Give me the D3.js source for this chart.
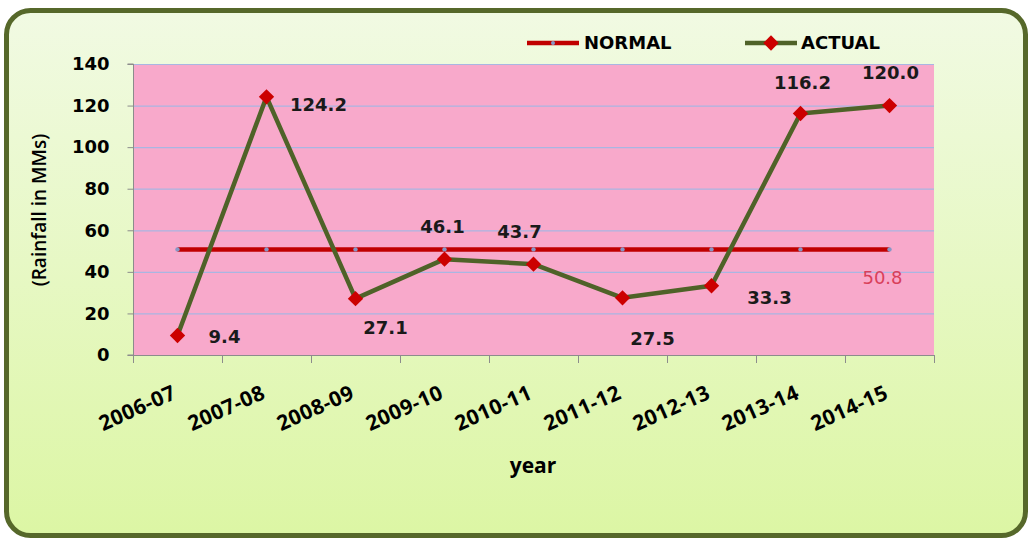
<!DOCTYPE html>
<html>
<head>
<meta charset="utf-8">
<script src="https://cdn.jsdelivr.net/npm/d3@7"></script>
<style>
  body { margin: 0; background: #fff; }
  svg { display: block; }
</style>
</head>
<body>
<script>

var years = ["2006-07", "2007-08", "2008-09", "2009-10", "2010-11", "2011-12", "2012-13", "2013-14", "2014-15"];
var actual = [9.4, 124.2, 27.1, 46.1, 43.7, 27.5, 33.3, 116.2, 120.0];
var normal = [50.8, 50.8, 50.8, 50.8, 50.8, 50.8, 50.8, 50.8, 50.8];
var yTicks = [0, 20, 40, 60, 80, 100, 120, 140];

// hand placed label offsets (like the original sheet)
var labelOffsets = [[47, 8], [52, 14], [30, 35], [-2, -26], [-14, -26], [30, 47], [58, 18], [2, -24], [1, -27]];

var width = 1030,
    height = 540;

var svg = d3.select("body").append("svg")
    .attr("width", width)
    .attr("height", height)
    .attr("font-family", "DejaVu Sans, sans-serif");

var defs = svg.append("defs");
var grad = defs.append("linearGradient")
    .attr("id", "bg")
    .attr("x1", 0).attr("y1", 0).attr("x2", 0).attr("y2", 1);
grad.append("stop").attr("offset", "0%").attr("stop-color", "#f1fae3");
grad.append("stop").attr("offset", "100%").attr("stop-color", "#dcf6a4");

// outer frame
svg.append("rect")
    .attr("x", 6.5)
    .attr("y", 10.5)
    .attr("width", 1019)
    .attr("height", 525)
    .attr("rx", 24)
    .attr("fill", "url(#bg)")
    .attr("stroke", "#56682a")
    .attr("stroke-width", 5);

var x = d3.scaleBand()
    .domain(years)
    .range([133, 934]);

var y = d3.scaleLinear()
    .domain([0, 140])
    .range([355, 64]);

function cx(d, i) { return x(years[i]) + x.bandwidth() / 2; }

// plot area
svg.append("rect")
    .attr("x", 133)
    .attr("y", y(140))
    .attr("width", 934 - 133)
    .attr("height", y(0) - y(140))
    .attr("fill", "#f8a9cb");

// gridlines
svg.append("g")
    .selectAll("line")
    .data(yTicks.filter(function(d) { return d > 0; }))
  .enter().append("line")
    .attr("x1", 133)
    .attr("x2", 934)
    .attr("y1", function(d) { return y(d) + 0.5; })
    .attr("y2", function(d) { return y(d) + 0.5; })
    .attr("stroke", "#a9b6e2")
    .attr("stroke-width", 1.2);

// Y-axis.
var yAxis = d3.axisLeft(y)
    .tickValues(yTicks)
    .tickSize(6)
    .tickPadding(18);

var gy = svg.append("g")
    .attr("transform", "translate(133.5,0)")
    .call(yAxis);
gy.selectAll("line, path").attr("stroke", "#8c8c8c");
gy.select(".domain").attr("d", "M-6," + y(140) + "H0V" + y(0) + "H-6");
gy.selectAll("text")
    .attr("font-family", "DejaVu Sans")
    .attr("font-size", 18)
    .attr("font-weight", "bold")
    .attr("fill", "#000");

// X-axis: ticks on category boundaries
var bounds = years.map(function(d) { return x(d); }).concat([x.range()[1]]);
svg.append("line")
    .attr("x1", 133).attr("x2", 934)
    .attr("y1", y(0) + 0.5).attr("y2", y(0) + 0.5)
    .attr("stroke", "#8c8c8c");
svg.append("g")
    .selectAll("line")
    .data(bounds)
  .enter().append("line")
    .attr("x1", function(d) { return Math.round(d) + 0.5; })
    .attr("x2", function(d) { return Math.round(d) + 0.5; })
    .attr("y1", y(0))
    .attr("y2", y(0) + 8)
    .attr("stroke", "#8c8c8c");

svg.append("g")
    .selectAll("text")
    .data(years)
  .enter().append("text")
    .attr("transform", function(d) {
      return "translate(" + (x(d) + x.bandwidth() / 2) + "," + 398 + ") rotate(-24)";
    })
    .attr("text-anchor", "end")
    .attr("font-family", "Open Sans, sans-serif")
    .attr("font-weight", "bold")
    .attr("font-size", 21)
    .attr("letter-spacing", 0.4)
    .attr("fill", "#000")
    .text(function(d) { return d; });

// axis titles
svg.append("text")
    .attr("x", 533)
    .attr("y", 473)
    .attr("text-anchor", "middle")
    .attr("font-family", "Open Sans")
    .attr("font-weight", "bold")
    .attr("font-size", 21)
    .text("year");

svg.append("text")
    .attr("transform", "translate(46,210) rotate(-90)")
    .attr("text-anchor", "middle")
    .attr("font-family", "Open Sans")
    .attr("font-weight", 600)
    .attr("font-size", 19)
    .text("(Rainfall in MMs)");

// NORMAL line
var line = d3.line()
    .x(cx)
    .y(function(d) { return y(d); });

svg.append("path")
    .datum(normal)
    .attr("d", line)
    .attr("fill", "none")
    .attr("stroke", "#c00000")
    .attr("stroke-width", 4.5);

svg.append("g")
    .selectAll("circle")
    .data(normal)
  .enter().append("circle")
    .attr("cx", cx)
    .attr("cy", function(d) { return y(d); })
    .attr("r", 2.2)
    .attr("fill", "#8797c6");

// ACTUAL line
svg.append("path")
    .datum(actual)
    .attr("d", line)
    .attr("fill", "none")
    .attr("stroke", "#4f6228")
    .attr("stroke-width", 4.5)
    .attr("stroke-linejoin", "round");

var diamond = d3.symbol().type(d3.symbolDiamond2).size(150);

svg.append("g")
    .selectAll("path")
    .data(actual)
  .enter().append("path")
    .attr("d", diamond)
    .attr("transform", function(d, i) { return "translate(" + cx(d, i) + "," + y(d) + ")"; })
    .attr("fill", "#cc0000");

// data labels
svg.append("g")
    .selectAll("text")
    .data(actual)
  .enter().append("text")
    .attr("x", function(d, i) { return cx(d, i) + labelOffsets[i][0]; })
    .attr("y", function(d, i) { return y(d) + labelOffsets[i][1]; })
    .attr("text-anchor", "middle")
    .attr("font-size", 18)
    .attr("font-weight", "bold")
    .attr("fill", "#1a1a1a")
    .text(function(d) { return d.toFixed(1); });

svg.append("text")
    .attr("x", cx(normal[8], 8) - 7)
    .attr("y", y(normal[8]) + 35)
    .attr("text-anchor", "middle")
    .attr("font-size", 18)
    .attr("fill", "#d9405a")
    .text(normal[8].toFixed(1));

// Legend.
var legend = svg.append("g").attr("transform", "translate(0,43)");

legend.append("line")
    .attr("x1", 527).attr("x2", 579)
    .attr("stroke", "#c00000")
    .attr("stroke-width", 4.5);
legend.append("circle")
    .attr("cx", 553).attr("r", 2)
    .attr("fill", "#8797c6");
legend.append("text")
    .attr("x", 584)
    .attr("dy", "0.36em")
    .attr("font-size", 18)
    .attr("font-weight", "bold")
    .text("NORMAL");

legend.append("line")
    .attr("x1", 745).attr("x2", 797)
    .attr("stroke", "#4f6228")
    .attr("stroke-width", 4.5);
legend.append("path")
    .attr("d", diamond)
    .attr("transform", "translate(771,0)")
    .attr("fill", "#cc0000");
legend.append("text")
    .attr("x", 801)
    .attr("dy", "0.36em")
    .attr("font-size", 18)
    .attr("font-weight", "bold")
    .text("ACTUAL");

</script>
</body>
</html>
